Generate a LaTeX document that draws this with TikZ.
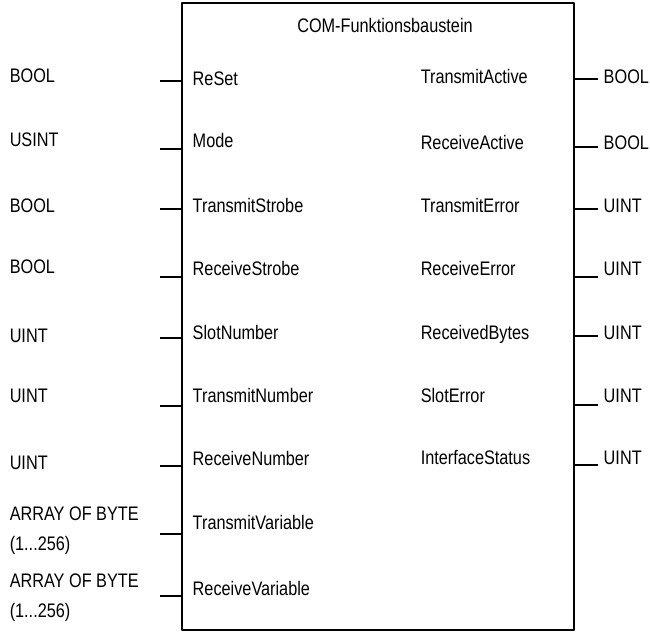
\documentclass[tikz,border=0pt]{standalone}
\usepackage{fontspec}
\setmainfont{Liberation Sans}[FakeStretch=0.83]
\begin{document}
\begin{tikzpicture}[x=0.5pt, y=-0.5pt, line join=round, line width=0.75pt,
    pinlabel/.style={anchor=base west, inner sep=0pt, align=left, font=\fontsize{9.8}{15}\selectfont},
    fbbox/.style={draw, line width=0.9pt, inner sep=0pt, minimum width=196pt, minimum height=313.5pt}]
  \useasboundingbox (0,0) rectangle (650,632);
  \node[fbbox] (fb) at (378,316.5) {};
  \node[pinlabel, anchor=base] (title) at (385,32) {COM-Funktionsbaustein};
  % Eingaenge
  \foreach \i/\pname/\ty/\ly/\typ/\tty in {1/ReSet/78/81/BOOL/75, 2/Mode/140/149/USINT/139,
      3/TransmitStrobe/205/209/BOOL/205, 4/ReceiveStrobe/268/277/BOOL/266,
      5/SlotNumber/332/338/UINT/335, 6/TransmitNumber/395/406/UINT/395,
      7/ReceiveNumber/458/466/UINT/462, 8/TransmitVariable/522/534/{ARRAY OF BYTE\\(1...256)}/543,
      9/ReceiveVariable/588/596/{ARRAY OF BYTE\\(1...256)}/610}{
    \node[pinlabel] (in\i) at (192,\ty+7) {\pname};
    \node[pinlabel] (intype\i) at (9,\tty+7) {\typ};
    \coordinate (inA\i) at (160,\ly);
    \coordinate (inB\i) at (182,\ly);
    \draw (inA\i) -- (inB\i);
  }
  % Ausgaenge
  \foreach \i/\pname/\ty/\ly/\typ in {1/TransmitActive/76/79/BOOL, 2/ReceiveActive/142/147/BOOL,
      3/TransmitError/205/209/UINT, 4/ReceiveError/268/277/UINT, 5/ReceivedBytes/332/336/UINT,
      6/SlotError/395/405/UINT, 7/InterfaceStatus/457/465/UINT}{
    \node[pinlabel] (out\i) at (420,\ty+7) {\pname};
    \node[pinlabel] (outtype\i) at (603,\ty+7) {\typ};
    \coordinate (outA\i) at (574,\ly);
    \coordinate (outB\i) at (598,\ly);
    \draw (outA\i) -- (outB\i);
  }
\end{tikzpicture}
\end{document}
